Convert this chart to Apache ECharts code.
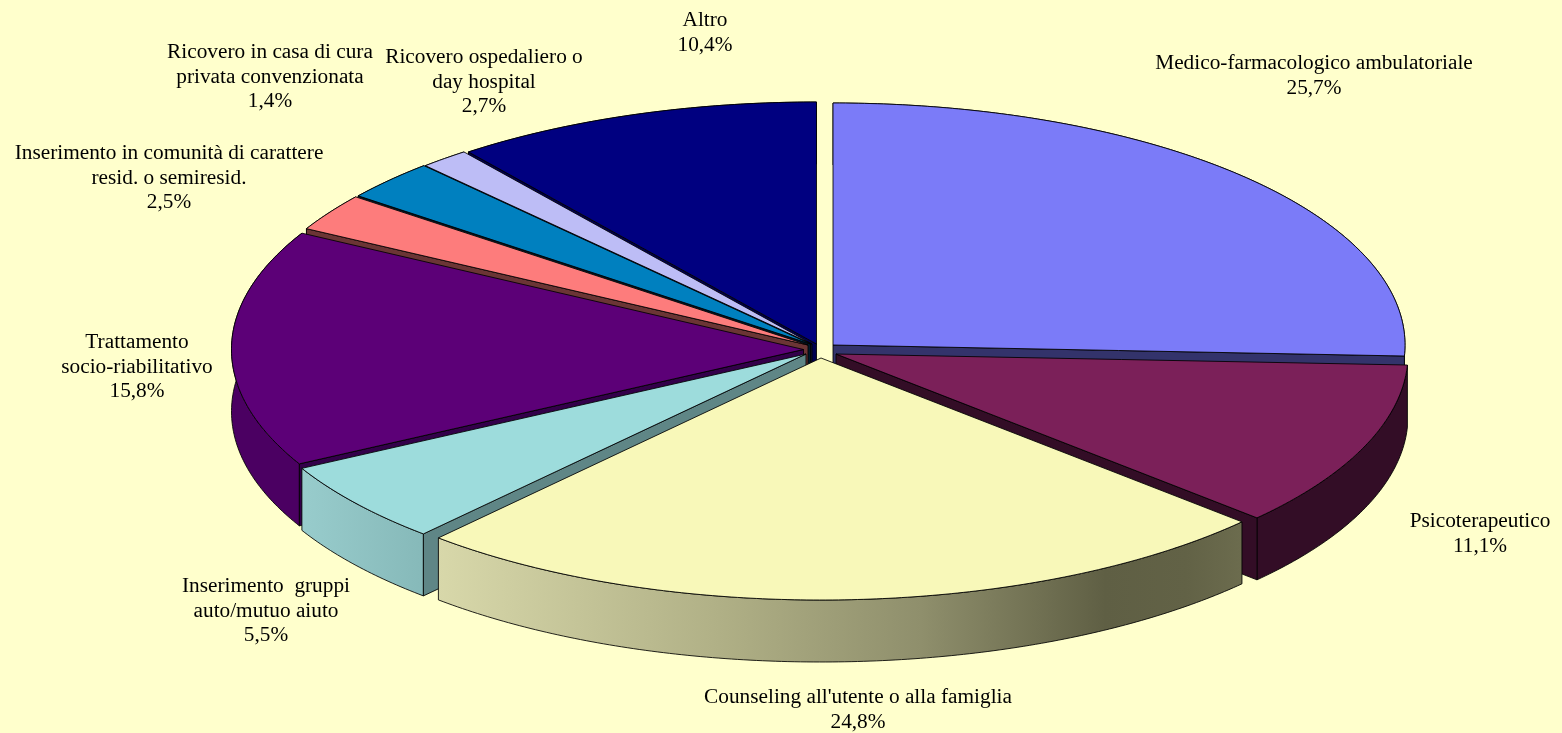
<!DOCTYPE html>
<html><head><meta charset="utf-8">
<style>html,body{margin:0;padding:0;background:#FFFFCC}#c{width:1562px;height:733px}</style>
<script src="https://cdn.jsdelivr.net/npm/echarts@6/dist/echarts.min.js"></script>
</head><body><div id="c"></div>
<script>
// Data
var categories = [
  "Medico-farmacologico ambulatoriale",
  "Psicoterapeutico",
  "Counseling all'utente o alla famiglia",
  "Inserimento  gruppi\nauto/mutuo aiuto",
  "Trattamento\nsocio-riabilitativo",
  "Inserimento in comunità di carattere\nresid. o semiresid.",
  "Ricovero ospedaliero o\nday hospital",
  "Ricovero in casa di cura\nprivata convenzionata",
  "Altro"
];
var values = [25.7, 11.1, 24.8, 5.5, 15.8, 2.5, 2.7, 1.4, 10.4];

// Styles
var topColors  = ["#7B7BF8","#7B2059","#F8F8B9","#9DDCDC","#5C0077","#FD7C7C","#0080BF","#BDBDF6","#000080"];
var wallColors = ["#33336B","#330D26",null,null,"#4B0062","#6B3535","#00466B","#50506B","#000050"];
var cutColors  = ["#33336B","#330D26","#66664A","#5F8686","#33004A","#6B3535","#001A2B","#101030","#000050"];
// Layout: exploded slice centres, label centres, draw order (back to front)
var sliceCentres = [[833,345],[836,354],[821,358],[806,354],[803.5,349.5],[808,345],[810.5,344],[812,344],[816.5,344]];
var labelCentres = [[1314,76],[1480,534],[858,710],[266,611],[137,367],[169,178],[484,82],[270,77],[705,33]];
var drawOrder = [8,7,6,5,4,0,1,3,2];
var RX = 572, RY = 242, DEPTH = 62;
var wallGradients = {
  2: {type:'linear',x:0,y:0,x2:1,y2:0,colorStops:[
    {offset:0,color:'#D8D8AA'},{offset:0.35,color:'#B0B086'},{offset:0.6,color:'#8F8F6C'},
    {offset:0.83,color:'#5F5F44'},{offset:0.93,color:'#626246'},{offset:1,color:'#6C6C4E'}]},
  3: {type:'linear',x:0,y:0,x2:1,y2:0,colorStops:[
    {offset:0,color:'#98CCCC'},{offset:1,color:'#86B9B9'}]}
};

var total = values.reduce(function(a,b){return a+b;},0);
var starts = []; values.reduce(function(acc,v,i){starts[i]=acc;return acc+v;},0);
var LINE = 'rgba(0,0,0,0.85)';

function rim(c,t,d){return [c[0]+RX*Math.sin(t), c[1]-RY*Math.cos(t)+(d||0)];}

function renderItem(params, api){
  var i = params.dataIndex;
  var v = api.value(0);
  var t0 = starts[i]/total*2*Math.PI, t1 = t0 + v/total*2*Math.PI;
  var c = sliceCentres[i];
  var rank = drawOrder.indexOf(i)*10;
  var top=[c], upper=[], lower=[];
  var n = Math.max(8, Math.ceil((t1-t0)*90));
  for(var k=0;k<=n;k++){
    var t=t0+(t1-t0)*k/n;
    var p=rim(c,t); top.push(p); upper.push(p);
    lower.unshift(rim(c,t,DEPTH));
  }
  var children=[];
  function poly(points,fill,z){
    children.push({type:'polygon',shape:{points:points},z2:rank+z,silent:true,
      style:{fill:fill,stroke:LINE,lineWidth:1,lineJoin:'round'}});
  }
  poly(upper.concat(lower), wallGradients[i]||wallColors[i], 1);
  function cut(t){
    var a=rim(c,t), b=rim(c,t,DEPTH);
    poly([c,a,b,[c[0],c[1]+DEPTH]], cutColors[i], 2);
  }
  if(Math.sin(t0)<-1e-6) cut(t0);
  if(Math.sin(t1)>1e-6) cut(t1);
  poly(top, topColors[i], 3);
  var txt = categories[i]+'\n'+v.toFixed(1).replace('.',',')+'%';
  children.push({type:'text',z2:1000,silent:true,x:labelCentres[i][0],y:labelCentres[i][1],
    style:{text:txt,fill:'#000',font:'21.3px "Liberation Serif"',align:'center',verticalAlign:'middle',lineHeight:24.5}});
  return {type:'group',children:children};
}

var chart = echarts.init(document.getElementById('c'),null,{renderer:'canvas'});
chart.setOption({
  backgroundColor:'#FFFFCC',
  animation:false,
  series:[{
    type:'custom',
    coordinateSystem:'none',
    silent:true,
    renderItem:renderItem,
    encode:{value:0},
    data:categories.map(function(name,i){return {name:name,value:[values[i],i]};})
  }]
});
</script></body></html>
